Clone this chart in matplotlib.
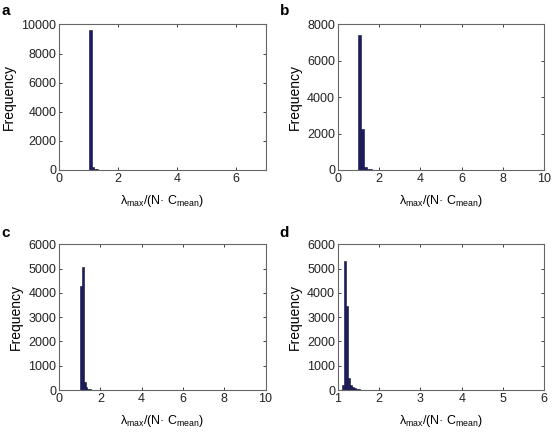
import numpy as np
import matplotlib
matplotlib.use('Agg')
import matplotlib.pyplot as plt

plt.rcParams['font.family'] = ['Liberation Sans', 'DejaVu Sans']
plt.rcParams['mathtext.fontset'] = 'custom'
plt.rcParams['mathtext.rm'] = 'Liberation Sans'
plt.rcParams['mathtext.it'] = 'Liberation Sans:italic'

# histogram bins: first left edge, bin width, counts
a_start, a_width = 1.03, 0.07
a_counts = [9600, 180, 70, 35, 20, 12, 8, 5, 4, 3, 2, 2, 1, 1, 1]
b_start, b_width = 1.0, 0.13
b_counts = [7400, 2250, 150, 60, 30, 15, 10, 6, 4, 3, 2, 1, 1]
c_start, c_width = 1.03, 0.085
c_counts = [4300, 5050, 350, 120, 60, 30, 20, 12, 8, 5, 4, 3, 2, 2, 1, 1]
d_start, d_width = 1.10, 0.048
d_counts = [200, 5300, 3450, 500, 200, 120, 70, 45, 30, 20, 14, 10, 7, 5, 4, 3, 2, 2, 1, 1]

panels = [
    ('a', a_start, a_width, a_counts, (0, 7), [0, 2, 4, 6], (0, 10000), np.arange(0, 10001, 2000)),
    ('b', b_start, b_width, b_counts, (0, 10), [0, 2, 4, 6, 8, 10], (0, 8000), np.arange(0, 8001, 2000)),
    ('c', c_start, c_width, c_counts, (0, 10), [0, 2, 4, 6, 8, 10], (0, 6000), np.arange(0, 6001, 1000)),
    ('d', d_start, d_width, d_counts, (1, 6), [1, 2, 3, 4, 5, 6], (0, 6000), np.arange(0, 6001, 1000)),
]
boxes = [
    (0.107, 0.6065), (0.612, 0.6065),
    (0.107, 0.0972), (0.612, 0.0972),
]
letters_xy = [(0.002, 0.975), (0.507, 0.975), (0.002, 0.46), (0.507, 0.46)]

fig = plt.figure(figsize=(5.52, 4.32), dpi=100)

for (lab, start, width, counts, xl, xt, yl, yt), (x0, y0), (lx, ly) in zip(panels, boxes, letters_xy):
    ax = fig.add_axes([x0, y0, 0.374, 0.337])
    lefts = start + width * np.arange(len(counts))
    ax.bar(lefts, counts, width=width, align='edge', color='#1c1c66',
           edgecolor='#101030', linewidth=0.4)
    ax.set_xlim(*xl)
    ax.set_ylim(*yl)
    ax.set_xticks(xt)
    ax.set_yticks(yt)
    ax.tick_params(direction='in', top=True, right=True, length=2.5, width=0.6,
                   labelsize=9, colors='#222222', pad=2)
    for s in ax.spines.values():
        s.set_color('#666666')
        s.set_linewidth(0.8)
    ax.set_ylabel('Frequency', fontsize=10, labelpad=4)
    ax.set_xlabel('λ$_{\\rm max}$/(N· C$_{\\rm mean}$)', fontsize=9, labelpad=6)
    fig.text(lx, ly, lab, fontsize=11, fontweight='bold', va='center', ha='left')

fig.savefig('out.png', dpi=100)
